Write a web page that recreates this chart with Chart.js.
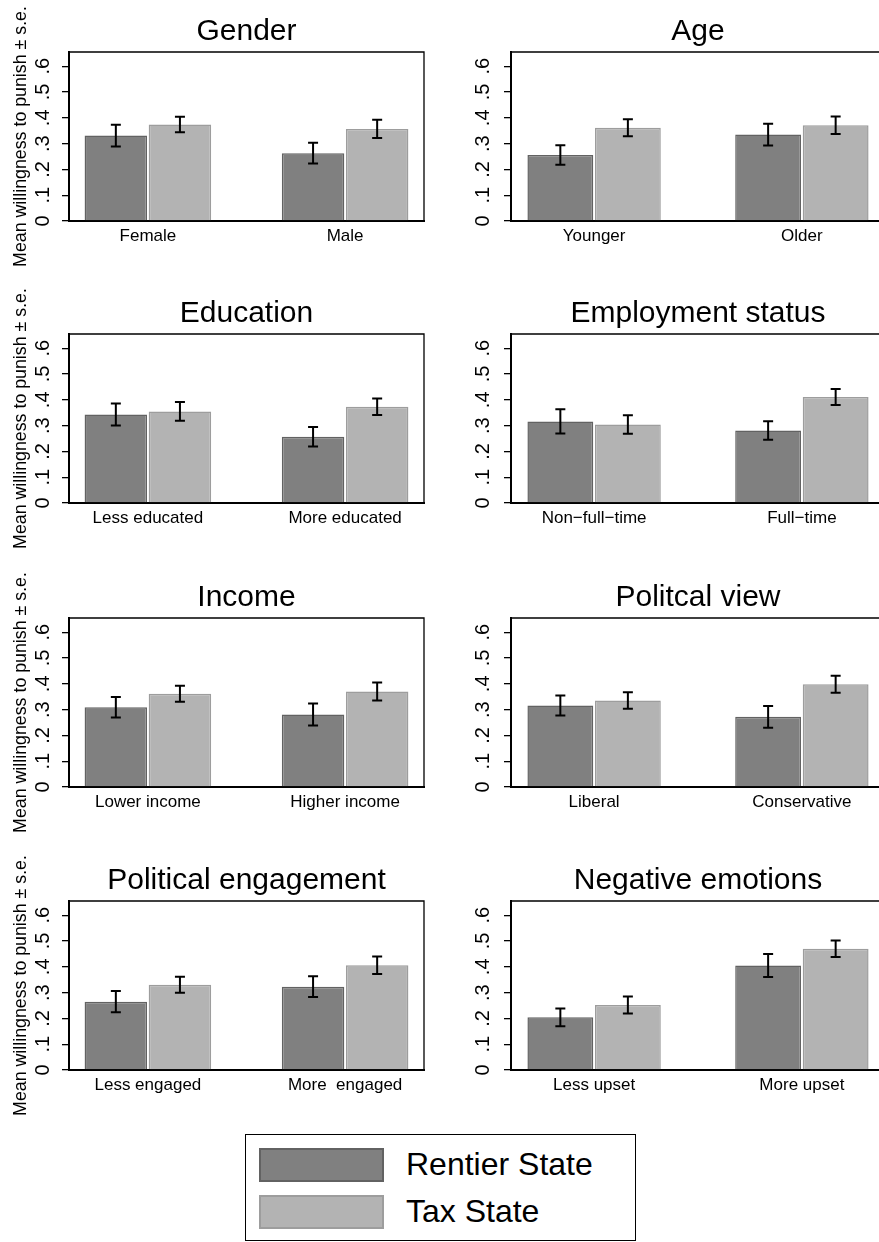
<!DOCTYPE html>
<html>
<head>
<meta charset="utf-8">
<script src="https://cdn.jsdelivr.net/npm/chart.js@4/dist/chart.umd.min.js"></script>
<style>
  html, body { margin: 0; padding: 0; background: #fff; }
  body { width: 879px; height: 1242px; overflow: hidden; position: relative;
         font-family: "Liberation Sans", Arial, sans-serif; }
  canvas.panel { position: absolute; }
  #legendBox { position: absolute; left: 245px; top: 1134px; width: 391px; height: 107px;
               border: 1.5px solid #000; box-sizing: border-box; }
  .swatch { position: absolute; left: 259px; width: 125px; height: 34px; box-sizing: border-box; border: 2px solid; }
  .legendText { position: absolute; left: 406px; font-size: 32px; line-height: 32px; color: #000; white-space: nowrap; }
</style>
</head>
<body>
<div id="legendBox"></div>
<div class="swatch" id="sw0" style="top:1148px"></div>
<div class="swatch" id="sw1" style="top:1195px"></div>
<div class="legendText" id="lt0" style="top:1148px"></div>
<div class="legendText" id="lt1" style="top:1195px"></div>
<script>
// Two experimental conditions
const seriesNames = ['Rentier State', 'Tax State'];
const seriesFill = ['#808080', '#b3b3b3'];
const seriesEdge = ['#626262', '#9d9d9d'];

// One panel per respondent characteristic
const panelTitles = ['Gender', 'Age', 'Education', 'Employment status',
                     'Income', 'Politcal view', 'Political engagement', 'Negative emotions'];
const groupLabels = [
  ['Female', 'Male'],
  ['Younger', 'Older'],
  ['Less educated', 'More educated'],
  ['Non\u2212full\u2212time', 'Full\u2212time'],
  ['Lower income', 'Higher income'],
  ['Liberal', 'Conservative'],
  ['Less engaged', 'More  engaged'],
  ['Less upset', 'More upset']
];

// Mean willingness to punish and standard errors, per panel and group
const rentierMean = [[0.331, 0.263], [0.256, 0.335], [0.343, 0.257], [0.316, 0.281],
                     [0.309, 0.281], [0.316, 0.272], [0.265, 0.323], [0.204, 0.405]];
const rentierSE   = [[0.042, 0.040], [0.038, 0.042], [0.043, 0.038], [0.047, 0.036],
                     [0.040, 0.043], [0.039, 0.042], [0.041, 0.040], [0.034, 0.045]];
const taxMean     = [[0.374, 0.357], [0.361, 0.371], [0.355, 0.373], [0.304, 0.411],
                     [0.361, 0.370], [0.335, 0.398], [0.330, 0.406], [0.252, 0.470]];
const taxSE       = [[0.030, 0.035], [0.033, 0.034], [0.036, 0.032], [0.036, 0.031],
                     [0.031, 0.035], [0.032, 0.033], [0.031, 0.034], [0.033, 0.032]];

const yTickValues = [0, 0.1, 0.2, 0.3, 0.4, 0.5, 0.6];
const yTickLabels = ['0', '.1', '.2', '.3', '.4', '.5', '.6'];
const yTitle = 'Mean willingness to punish \u00b1 s.e.';

Chart.defaults.font.family = '"Liberation Sans", Arial, sans-serif';
Chart.defaults.color = '#000';

// Mean ± s.e. whiskers on every bar
const errorBars = {
  id: 'errorBars',
  afterDatasetsDraw(chart) {
    const { ctx } = chart;
    const yScale = chart.scales.y;
    ctx.save();
    ctx.strokeStyle = '#000';
    ctx.lineWidth = 2;
    chart.data.datasets.forEach((ds, di) => {
      chart.getDatasetMeta(di).data.forEach((bar, i) => {
        const m = ds.data[i].y, e = ds.se[i];
        const yHi = yScale.getPixelForValue(m + e);
        const yLo = yScale.getPixelForValue(m - e);
        const x = bar.x, cap = 5;
        ctx.beginPath();
        ctx.moveTo(x, yHi); ctx.lineTo(x, yLo);
        ctx.moveTo(x - cap, yHi); ctx.lineTo(x + cap, yHi);
        ctx.moveTo(x - cap, yLo); ctx.lineTo(x + cap, yLo);
        ctx.stroke();
      });
    });
    ctx.restore();
  }
};

// Closes the plot region with top and right edges
const panelFrame = {
  id: 'panelFrame',
  afterDraw(chart) {
    const { ctx, chartArea: a } = chart;
    ctx.save();
    ctx.strokeStyle = '#000';
    ctx.lineWidth = 1.3;
    ctx.beginPath();
    ctx.moveTo(a.left, a.top); ctx.lineTo(a.right, a.top); ctx.lineTo(a.right, a.bottom);
    ctx.stroke();
    ctx.restore();
  }
};

// Panel heading centred over the plot region
const panelTitle = {
  id: 'panelTitle',
  afterDraw(chart, args, opts) {
    const { ctx, chartArea: a } = chart;
    ctx.save();
    ctx.font = '30px "Liberation Sans", Arial, sans-serif';
    ctx.fillStyle = '#000';
    ctx.textAlign = 'center';
    ctx.textBaseline = 'alphabetic';
    ctx.fillText(opts.text, (a.left + a.right) / 2, a.top - 12.5);
    ctx.restore();
  }
};

const rowTops = [0, 282, 566, 849];

function makePanel(k) {
  const col = k % 2, row = Math.floor(k / 2);
  const left = col === 0 ? 0 : 440;
  const width = col === 0 ? 440 : 445;
  const height = 283;
  const canvas = document.createElement('canvas');
  canvas.className = 'panel';
  canvas.width = width; canvas.height = height;
  canvas.style.left = left + 'px';
  canvas.style.top = rowTops[row] + 'px';
  canvas.style.width = width + 'px';
  canvas.style.height = height + 'px';
  document.body.appendChild(canvas);

  const means = [rentierMean[k], taxMean[k]];
  const ses = [rentierSE[k], taxSE[k]];
  const labels = groupLabels[k];

  new Chart(canvas, {
    type: 'bar',
    data: {
      datasets: seriesNames.map((name, s) => ({
        label: name,
        data: means[s].map((v, i) => ({ x: i, y: v })),
        se: ses[s],
        backgroundColor: seriesFill[s],
        borderColor: seriesEdge[s],
        borderWidth: 1.5,
        categoryPercentage: 0.65,
        barPercentage: 0.975
      }))
    },
    options: {
      responsive: false,
      animation: false,
      devicePixelRatio: 1,
      events: [],
      layout: { padding: { top: 52, right: col === 0 ? 16 : 0, left: 0, bottom: 0 } },
      plugins: {
        legend: { display: false },
        tooltip: { enabled: false },
        panelTitle: { text: panelTitles[k] }
      },
      scales: {
        x: {
          type: 'linear',
          min: -0.4, max: 1.4,
          offset: false,
          grid: { display: false, drawTicks: false },
          border: { display: true, color: '#000', width: 2 },
          afterBuildTicks: s => { s.ticks = labels.map((_, i) => ({ value: i })); },
          afterFit: s => { s.height = height - 221; },
          ticks: {
            callback: v => labels[v],
            font: { size: 17 },
            color: '#000',
            padding: 5,
            autoSkip: false,
            maxRotation: 0
          }
        },
        y: {
          min: 0, max: 0.655,
          afterBuildTicks: s => { s.ticks = yTickValues.map(v => ({ value: v })); },
          afterFit: s => { s.width = col === 0 ? 69 : 71; },
          grid: { display: true, drawOnChartArea: false, drawTicks: true, tickLength: 7, color: '#000', lineWidth: 1.3 },
          border: { display: true, color: '#000', width: 2 },
          ticks: {
            callback: (v, i) => yTickLabels[i],
            font: { size: 20 },
            color: '#000',
            minRotation: 90, maxRotation: 90,
            crossAlign: 'center',
            padding: col === 0 ? 10.5 : 12.4
          },
          title: {
            display: col === 0,
            text: yTitle,
            font: { size: 17.8 },
            color: '#000',
            padding: { top: 10, bottom: 0 }
          }
        }
      }
    },
    plugins: [errorBars, panelFrame, panelTitle]
  });
}

for (let k = 0; k < panelTitles.length; k++) makePanel(k);

// Shared key for both conditions
seriesNames.forEach((name, s) => {
  const sw = document.getElementById('sw' + s);
  sw.style.background = seriesFill[s];
  sw.style.borderColor = seriesEdge[s];
  document.getElementById('lt' + s).textContent = name;
});
</script>
</body>
</html>
